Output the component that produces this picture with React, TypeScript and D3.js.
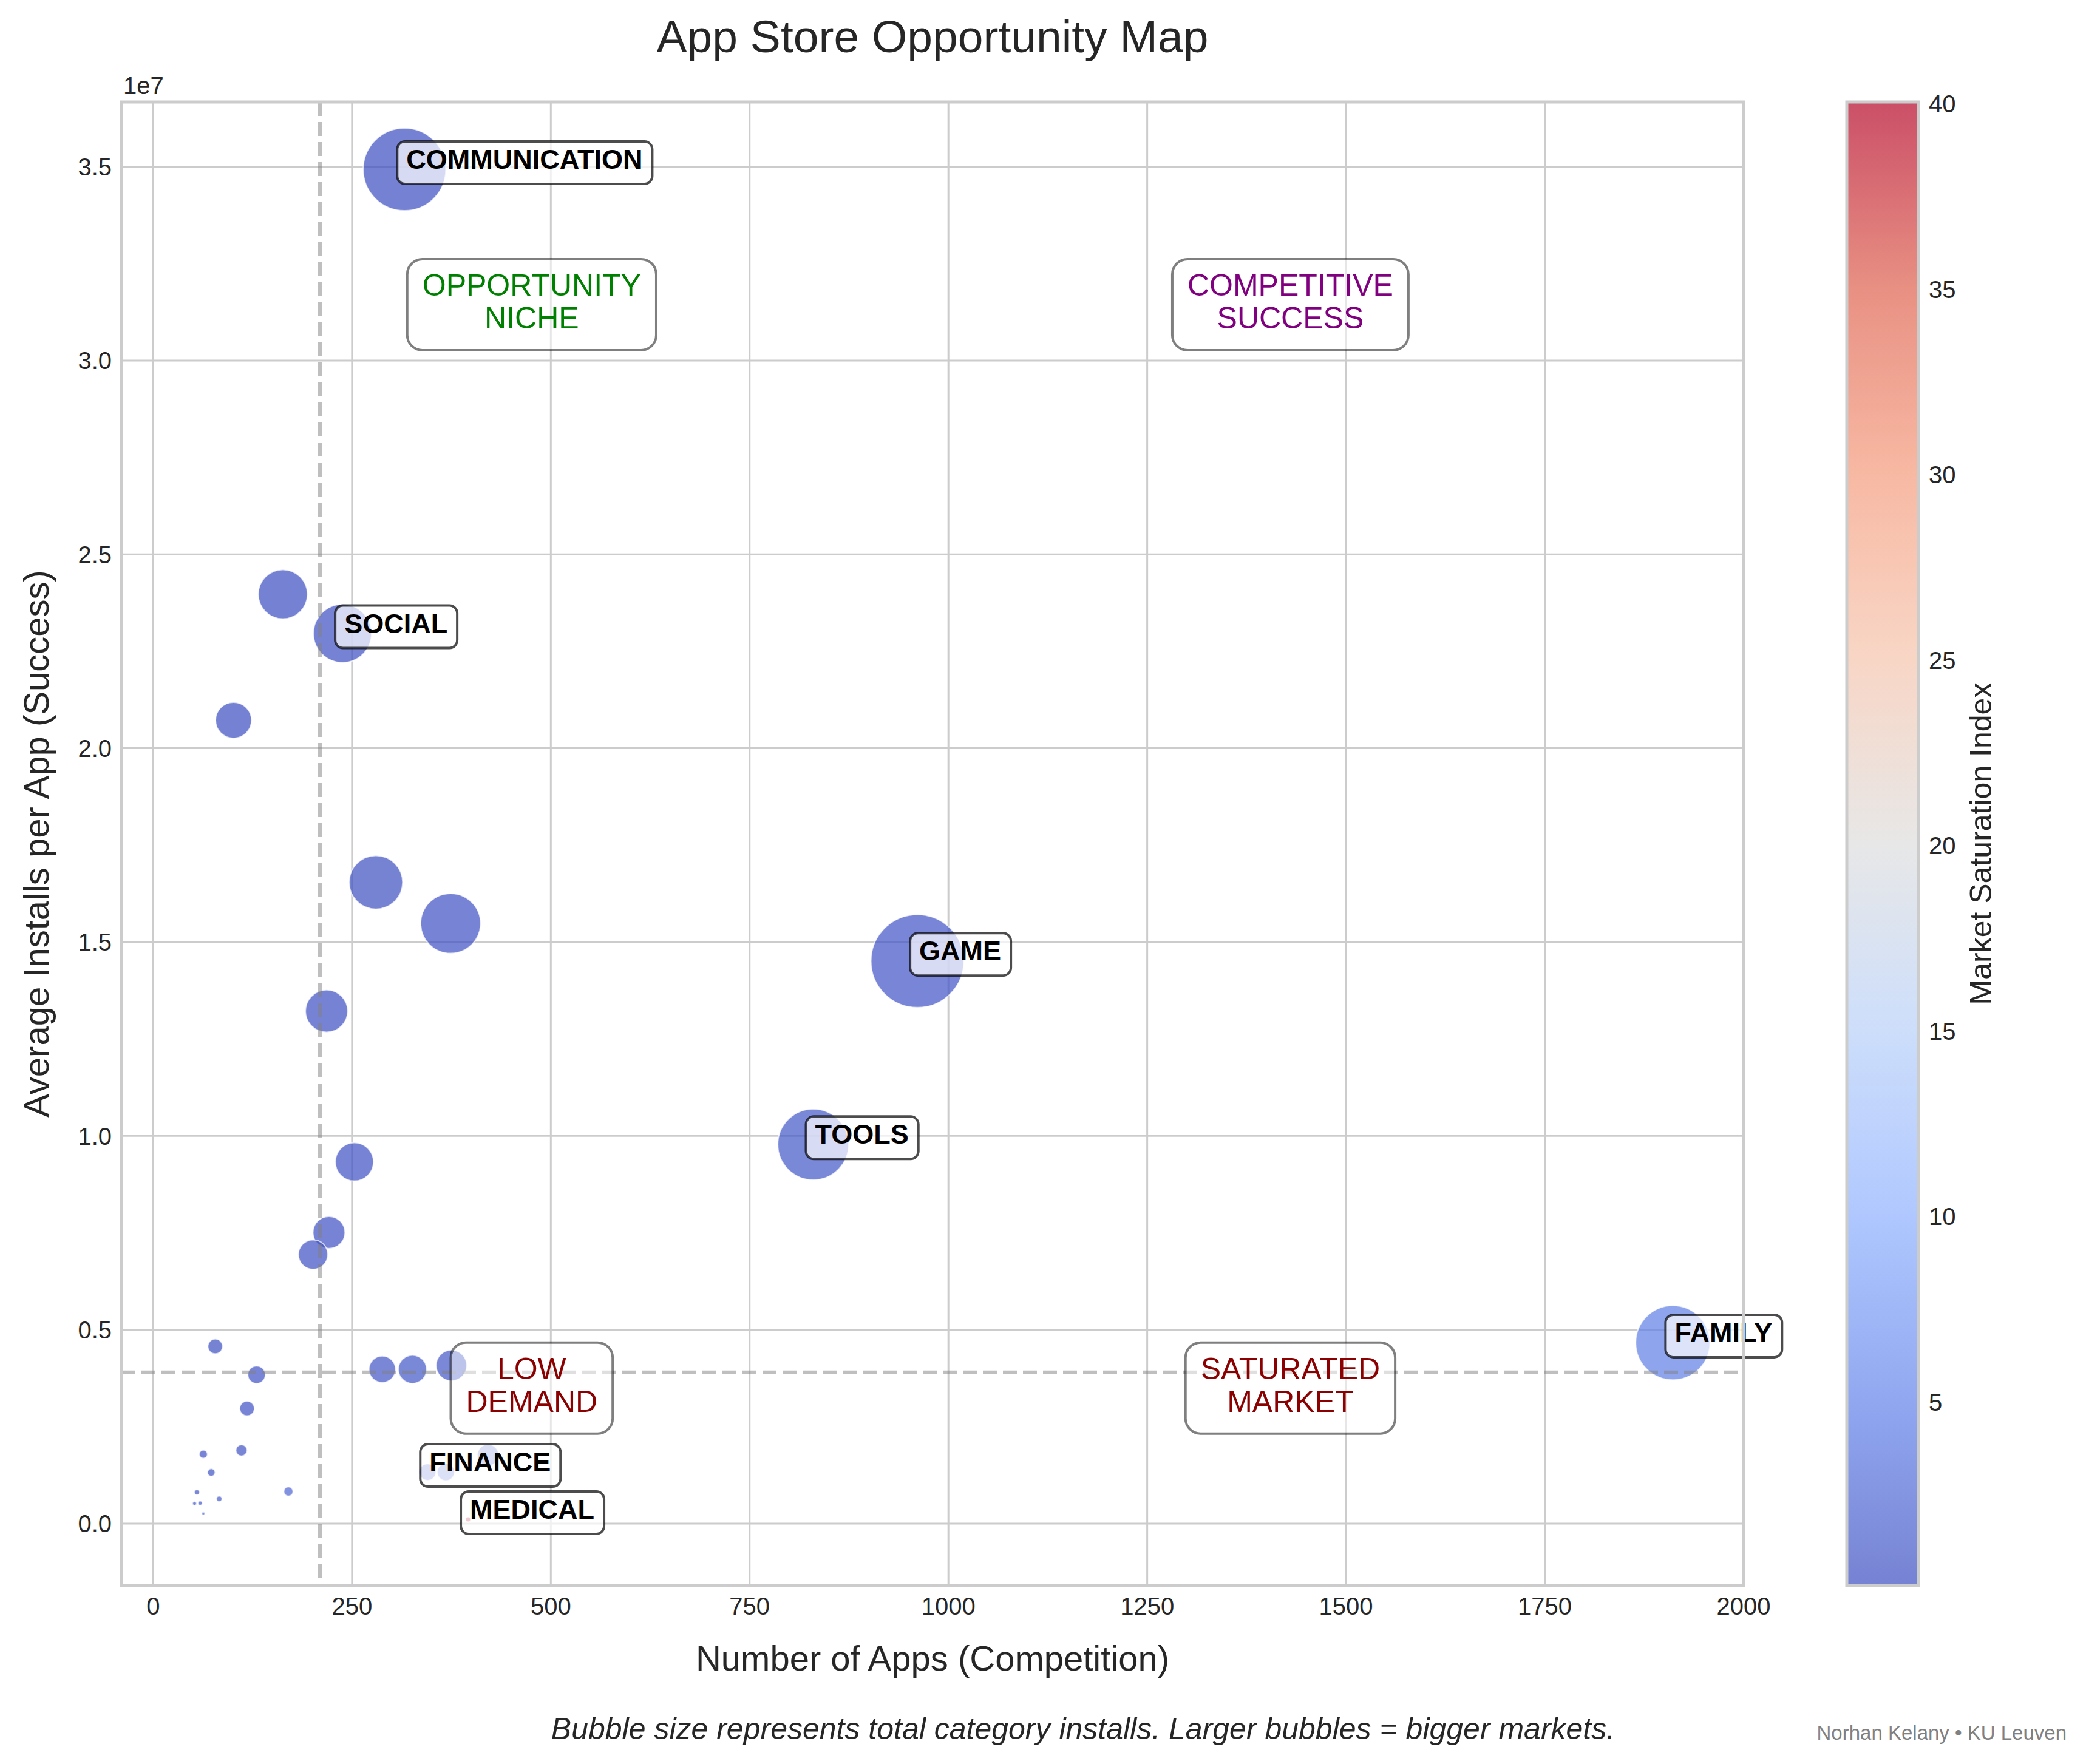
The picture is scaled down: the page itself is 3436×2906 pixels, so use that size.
import React from "react";
import * as d3 from "d3";

// one bubble per Play Store category
const categories = [
    "COMMUNICATION", "VIDEO_PLAYERS", "SOCIAL", "ENTERTAINMENT", "PHOTOGRAPHY",
    "PRODUCTIVITY", "TRAVEL_AND_LOCAL", "NEWS_AND_MAGAZINES", "BOOKS_AND_REFERENCE", "SHOPPING",
    "GAME", "TOOLS", "FAMILY", "WEATHER", "FOOD_AND_DRINK",
    "EDUCATION", "COMICS", "MAPS_AND_NAVIGATION", "HOUSE_AND_HOME", "BEAUTY",
    "AUTO_AND_VEHICLES", "DATING", "PARENTING", "ART_AND_DESIGN", "EVENTS",
    "HEALTH_AND_FITNESS", "SPORTS", "PERSONALIZATION", "LIFESTYLE", "BUSINESS",
    "FINANCE", "MEDICAL"
];
const appCounts = [
    316, 163, 238, 101, 280,
    374, 218, 253, 221, 201,
    961, 830, 1911, 78, 130,
    118, 63, 111, 73, 55,
    83, 170, 52, 59, 63,
    288, 326, 375, 368, 421,
    345, 396
];
const avgInstalls = [
    3.493e7, 2.397e7, 2.296e7, 2.072e7, 1.654e7,
    1.548e7, 1.322e7, 0.933e7, 0.751e7, 0.694e7,
    1.451e7, 0.978e7, 0.4666e7, 4.57e6, 3.84e6,
    2.97e6, 1.79e6, 1.89e6, 1.32e6, 8.1e5,
    6.4e5, 8.3e5, 5.2e5, 5.3e5, 2.6e5,
    3.98e6, 3.98e6, 4.08e6, 1.33e6, 1.77e6,
    1.33e6, 1.1e5
];
const saturationIndex = [
    0.10, 0.08, 0.12, 0.05, 0.19,
    0.27, 0.18, 0.30, 0.33, 0.32,
    0.74, 0.95, 4.56, 0.19, 0.38,
    0.44, 0.39, 0.65, 0.62, 0.76,
    1.44, 2.28, 1.11, 1.24, 2.7,
    0.81, 0.91, 1.02, 3.08, 2.65,
    2.89, 40.0
];
const labeledCategories = ["COMMUNICATION", "SOCIAL", "GAME", "TOOLS", "FAMILY", "FINANCE", "MEDICAL"];

const medianApps = 209.6;
const medianInstalls = 3.9e6;

const xTicks = [0, 250, 500, 750, 1000, 1250, 1500, 1750, 2000];
const yTicks = [0, 0.5e7, 1.0e7, 1.5e7, 2.0e7, 2.5e7, 3.0e7, 3.5e7];
const yTickLabels = ["0.0", "0.5", "1.0", "1.5", "2.0", "2.5", "3.0", "3.5"];
const cbarTicks = [5, 10, 15, 20, 25, 30, 35, 40];

const quadrantText = [["OPPORTUNITY", "NICHE"], ["COMPETITIVE", "SUCCESS"], ["LOW", "DEMAND"], ["SATURATED", "MARKET"]];
const quadrantX = [476, 1430, 476, 1430];
const quadrantY = [3.144e7, 3.144e7, 0.3496e7, 0.3496e7];
const quadrantColor = ["green", "purple", "darkred", "darkred"];

const W = 3436;
const H = 2906;
const plot = { left: 200, right: 2872, top: 168, bottom: 2612 };
const cbar = { left: 3042, right: 3160 };
const FONT = "'Liberation Sans', Arial, Helvetica, sans-serif";
const INK = "#262626";

// matplotlib coolwarm anchor colours
const coolwarm = ["#3b4cc0", "#6282ea", "#8db0fe", "#b8d0f9", "#dddddd", "#f5c4ad", "#f49a7b", "#de604d", "#b40426"];
const coolwarmScale = d3.scaleLinear<string>()
    .domain(coolwarm.map((_, i) => i / (coolwarm.length - 1)))
    .range(coolwarm)
    .interpolate(d3.interpolateRgb)
    .clamp(true);

let measureCtx: CanvasRenderingContext2D | null = null;
const textWidth = (text: string, font: string) => {
    if (!measureCtx) {
        measureCtx = document.createElement("canvas").getContext("2d");
    }
    if (!measureCtx) return text.length * 25;
    measureCtx.font = font;
    return measureCtx.measureText(text).width;
};

export default function App() {
    const x = d3.scaleLinear().domain([-40, 2000]).range([plot.left, plot.right]);
    const y = d3.scaleLinear().domain([-1.597e6, 3.6668e7]).range([plot.bottom, plot.top]);
    const totals = appCounts.map((n, i) => n * avgInstalls[i]);
    const r = d3.scaleSqrt().domain([0, 1.4e10]).range([0, 76.7]);
    const vmin = 0.05;
    const vmax = 40.05;
    const norm = d3.scaleLinear().domain([vmin, vmax]).range([0, 1]).clamp(true);
    const cy = d3.scaleLinear().domain([vmin, vmax]).range([plot.bottom, plot.top]);

    const gradStops = d3.range(0, 1.0001, 1 / 32);

    const labelFont = 45;
    const labelFontCss = `bold ${labelFont}px "Liberation Sans"`;
    const quadFont = 50;
    const quadFontCss = `${quadFont}px "Liberation Sans"`;

    return (
        <div style={{ position: "absolute", left: 0, top: 0, background: "#fff" }}>
            <svg width={W} height={H} viewBox={`0 0 ${W} ${H}`} style={{ display: "block", fontFamily: FONT }}>
                <defs>
                    <linearGradient id="cbar-grad" x1="0" y1="1" x2="0" y2="0">
                        {gradStops.map(t => (
                            <stop key={t} offset={t} stopColor={coolwarmScale(t)} stopOpacity={0.7} />
                        ))}
                    </linearGradient>
                    <clipPath id="plot-clip">
                        <rect x={plot.left} y={plot.top} width={plot.right - plot.left} height={plot.bottom - plot.top} />
                    </clipPath>
                </defs>
                <rect width={W} height={H} fill="#fff" />

                {/* grid */}
                <g stroke="#cccccc" strokeWidth={3}>
                    {xTicks.map(t => (
                        <line key={`gx${t}`} x1={x(t)} x2={x(t)} y1={plot.top} y2={plot.bottom} />
                    ))}
                    {yTicks.map(t => (
                        <line key={`gy${t}`} x1={plot.left} x2={plot.right} y1={y(t)} y2={y(t)} />
                    ))}
                </g>

                {/* bubbles */}
                <g clipPath="url(#plot-clip)">
                    {categories.map((c, i) => (
                        <circle
                            key={c}
                            cx={x(appCounts[i])}
                            cy={y(avgInstalls[i])}
                            r={r(totals[i])}
                            fill={coolwarmScale(norm(saturationIndex[i]))}
                            fillOpacity={0.7}
                            stroke="#fff"
                            strokeOpacity={0.7}
                            strokeWidth={2}
                        />
                    ))}
                </g>

                {/* median lines */}
                <g stroke="gray" strokeOpacity={0.5} strokeWidth={6.25} strokeDasharray="23 10">
                    <line x1={x(medianApps)} x2={x(medianApps)} y1={plot.top} y2={plot.bottom} />
                    <line x1={plot.left} x2={plot.right} y1={y(medianInstalls)} y2={y(medianInstalls)} />
                </g>

                {/* quadrant labels */}
                {quadrantText.map((lines, i) => {
                    const cx = x(quadrantX[i]);
                    const cyy = y(quadrantY[i]);
                    const w = Math.max(...lines.map(l => textWidth(l, quadFontCss)));
                    return (
                        <g key={lines.join("-")}>
                            <rect
                                x={cx - w / 2 - 25}
                                y={cyy - 75}
                                width={w + 50}
                                height={150}
                                rx={25}
                                fill="#fff"
                                fillOpacity={0.5}
                                stroke="#000"
                                strokeOpacity={0.5}
                                strokeWidth={4}
                            />
                            {lines.map((l, j) => (
                                <text
                                    key={l}
                                    x={cx}
                                    y={cyy - 14.5 + j * 54}
                                    textAnchor="middle"
                                    fontSize={quadFont}
                                    fill={quadrantColor[i]}
                                >
                                    {l}
                                </text>
                            ))}
                        </g>
                    );
                })}

                {/* category annotations */}
                {labeledCategories.map(c => {
                    const i = categories.indexOf(c);
                    const tx = x(appCounts[i]) + 3;
                    const ty = y(avgInstalls[i]) - 1;
                    const w = textWidth(c, labelFontCss);
                    return (
                        <g key={`lab-${c}`}>
                            <rect
                                x={tx - 15}
                                y={ty - 45}
                                width={w + 31}
                                height={70}
                                rx={13}
                                fill="#fff"
                                fillOpacity={0.7}
                                stroke="#000"
                                strokeOpacity={0.7}
                                strokeWidth={4}
                            />
                            <text x={tx} y={ty} fontSize={labelFont} fontWeight="bold" fill="#000">
                                {c}
                            </text>
                        </g>
                    );
                })}

                {/* spines */}
                <rect
                    x={plot.left}
                    y={plot.top}
                    width={plot.right - plot.left}
                    height={plot.bottom - plot.top}
                    fill="none"
                    stroke="#cccccc"
                    strokeWidth={5}
                />

                {/* tick labels */}
                <g fontSize={40} fill={INK}>
                    {xTicks.map(t => (
                        <text key={`tx${t}`} x={x(t)} y={2660} textAnchor="middle">{t}</text>
                    ))}
                    {yTicks.map((t, i) => (
                        <text key={`ty${t}`} x={184} y={y(t)} dy="0.36em" textAnchor="end">{yTickLabels[i]}</text>
                    ))}
                    <text x={203} y={155}>1e7</text>
                </g>

                {/* axis labels */}
                <text x={(plot.left + plot.right) / 2} y={2752} textAnchor="middle" fontSize={58} fill={INK}>
                    Number of Apps (Competition)
                </text>
                <text
                    transform={`translate(80,${(plot.top + plot.bottom) / 2}) rotate(-90)`}
                    textAnchor="middle"
                    fontSize={58}
                    fill={INK}
                >
                    Average Installs per App (Success)
                </text>

                {/* title */}
                <text x={(plot.left + plot.right) / 2} y={86} textAnchor="middle" fontSize={75} fill={INK}>
                    App Store Opportunity Map
                </text>

                {/* colorbar */}
                <rect
                    x={cbar.left}
                    y={plot.top}
                    width={cbar.right - cbar.left}
                    height={plot.bottom - plot.top}
                    fill="url(#cbar-grad)"
                    stroke="#cccccc"
                    strokeWidth={5}
                />
                <g fontSize={40} fill={INK}>
                    {cbarTicks.map(t => (
                        <text key={`cb${t}`} x={3177} y={cy(t)} dy="0.36em">{t}</text>
                    ))}
                </g>
                <text
                    transform={`translate(3280,${(plot.top + plot.bottom) / 2}) rotate(-90)`}
                    textAnchor="middle"
                    fontSize={50}
                    fill={INK}
                >
                    Market Saturation Index
                </text>

                {/* footnotes */}
                <text x={1784} y={2865} textAnchor="middle" fontSize={50} fontStyle="italic" fill={INK}>
                    Bubble size represents total category installs. Larger bubbles = bigger markets.
                </text>
                <text x={3404} y={2866} textAnchor="end" fontSize={33} fill="#808080">
                    Norhan Kelany • KU Leuven
                </text>
            </svg>
        </div>
    );
}
